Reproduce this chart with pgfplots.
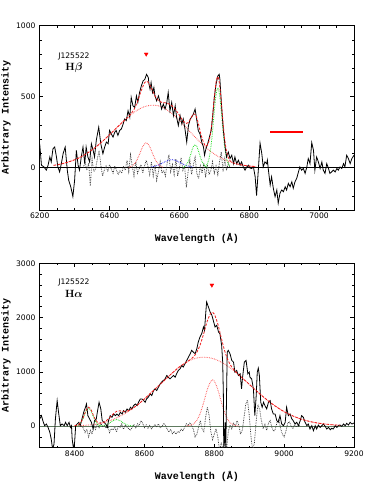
\documentclass[border=0pt]{standalone}
\usepackage{pgfplots}
\pgfplotsset{compat=1.18}
\usepackage{fontspec}
\usepackage{bm}
\newfontfamily\tickfont{DejaVu Sans}
\newfontfamily\labfont{Liberation Mono}
\definecolor{fitred}{HTML}{EE1C1C}
\definecolor{dotred}{HTML}{FF5555}
\definecolor{dotgreen}{HTML}{22DD22}
\definecolor{dotblue}{HTML}{2A2AF0}
\definecolor{zerogreen}{HTML}{5F7A5F}

\pgfplotsset{
  specaxis/.style={
    width=314.3pt, height=184.3pt, scale only axis,
    axis line style={line width=0.8pt},
    tick align=inside, xtick pos=both, ytick pos=both,
    major tick length=3.5pt, minor tick length=2pt,
    every tick/.style={black, line width=0.6pt},
    tick label style={font=\tickfont\fontsize{7.6}{9}\selectfont},
    /pgf/number format/assume math mode=true,
    /pgf/number format/set thousands separator={},
    xticklabel style={inner sep=1pt, yshift=-1.5pt},
    yticklabel style={inner sep=1pt, xshift=-3pt},
    label style={font=\labfont\bfseries\fontsize{10}{12}\selectfont},
    xlabel={Wavelength (Å)},
    ylabel={Arbitrary Intensity},
    xlabel style={at={(axis description cs:0.5,-0.157)}, anchor=center},
    ylabel style={at={(axis description cs:-0.107,0.5)}, anchor=center},
  },
  spec/.style={black, line width=0.8pt, sharp plot},
  tot/.style={fitred, line width=0.8pt, dash pattern=on 2.5pt off 1.5pt, smooth},
  comp/.style={line width=0.85pt, dash pattern=on 0.7pt off 1pt, smooth},
  resid/.style={black!80, line width=0.75pt, dash pattern=on 0.7pt off 1pt, sharp plot},
}

\begin{document}
\begin{tikzpicture}
\useasboundingbox (0,0) rectangle (374pt,498pt);

% ---------------- H beta ----------------
\begin{axis}[specaxis, at={(39.7pt,288pt)}, anchor=south west,
  xmin=6200, xmax=7100, ymin=-300, ymax=1000,
  xtick={6200,6400,6600,6800,7000},
  minor xtick={6250,6300,...,7100},
  ytick={0,500,1000},
  minor ytick={-300,-200,...,1000}]
\addplot[black, line width=0.6pt] coordinates {(6200,0) (7100,0)};
% residual
\addplot[resid] coordinates {
(6325,0) (6330,40) (6335,-20) (6340,30) (6345,-130) (6350,60) (6355,-30) (6360,-10)
(6365,60) (6370,120) (6375,20) (6380,-60) (6385,-20) (6390,10) (6395,-30) (6400,20)
(6405,-10) (6410,-40) (6415,10) (6420,-20) (6425,-50) (6430,-20) (6435,-40) (6440,10)
(6445,-20) (6450,50) (6455,-30) (6460,90) (6465,10) (6470,-60) (6475,40) (6480,-40)
(6485,-10) (6490,20) (6495,-40) (6500,10) (6505,50) (6510,10) (6515,-50) (6520,40)
(6525,-60) (6530,20) (6535,-90) (6540,-30) (6545,40) (6550,-40) (6555,-20) (6560,-60)
(6565,30) (6570,90) (6575,-30) (6580,20) (6585,-50) (6590,60) (6595,-60) (6600,-10)
(6605,70) (6610,-20) (6615,10) (6620,-140) (6625,-30) (6630,50) (6635,-50) (6640,20)
(6645,70) (6650,-40) (6655,-80) (6660,10) (6665,-40) (6670,30) (6675,-70) (6680,20)
(6685,-50) (6690,-20) (6695,40) (6700,-40) (6705,10) (6710,-50) (6715,40) (6720,110)
(6725,-30) (6730,60) (6735,-20) (6740,30) (6745,0)};
% broad component
\addplot[comp, dotred] coordinates {
(6240,15) (6260,24) (6280,37) (6300,54) (6320,77) (6340,107) (6360,143) (6380,185)
(6400,231) (6420,279) (6440,326) (6460,370) (6480,405) (6500,429) (6520,439) (6540,435)
(6560,414) (6580,378) (6600,332) (6620,280) (6640,227) (6660,177) (6680,132) (6700,95)
(6720,66) (6740,44) (6760,28) (6780,17) (6800,10) (6820,6)};
% narrow component
\addplot[comp, dotred] coordinates {
(6455,0) (6465,11) (6475,37) (6485,88) (6495,147) (6505,175) (6515,147) (6525,88)
(6535,37) (6545,11) (6555,0)};
\addplot[comp, dotblue] coordinates {
(6520,4) (6530,9) (6540,17) (6550,29) (6560,42) (6570,52) (6580,55) (6590,49)
(6600,37) (6610,24) (6620,13) (6630,6) (6640,3)};
\addplot[comp, dotgreen] coordinates {
(6610,0) (6615,7) (6620,18) (6625,40) (6630,73) (6635,113) (6640,147) (6645,160)
(6650,147) (6655,113) (6660,73) (6665,40) (6670,18) (6675,7) (6680,0)};
\addplot[comp, dotgreen] coordinates {
(6675,8) (6680,25) (6685,64) (6690,139) (6695,256) (6700,396) (6705,514) (6710,560)
(6715,514) (6720,396) (6725,256) (6730,139) (6735,64) (6740,25) (6745,8)};
% spectrum
\addplot[spec] coordinates {
(6200,167) (6205,16) (6212,4) (6219,-19) (6224,16) (6229,74) (6233,39) (6238,132)
(6243,144) (6248,74) (6252,4) (6257,-31) (6262,27) (6267,97) (6273,144) (6279,-19)
(6283,-90) (6289,-137) (6295,-205) (6300,-90) (6305,121) (6310,16) (6314,-19) (6319,74)
(6324,144) (6329,27) (6333,144) (6338,74) (6343,39) (6348,167) (6353,121) (6357,74)
(6362,191) (6369,284) (6375,167) (6381,97) (6386,144) (6391,179) (6396,167) (6400,261)
(6405,237) (6410,214) (6415,249) (6419,261) (6424,226) (6429,261) (6434,272) (6439,307)
(6443,342) (6448,331) (6453,400) (6458,354) (6462,494) (6467,435) (6472,424) (6477,505)
(6481,459) (6486,529) (6491,575) (6496,610) (6501,622) (6506,657) (6511,634) (6513,587)
(6516,552) (6519,599) (6523,529) (6527,564) (6530,505) (6535,470) (6540,505) (6545,459)
(6549,412) (6554,447) (6559,412) (6564,459) (6568,529) (6573,400) (6578,459) (6583,366)
(6588,435) (6592,354) (6597,296) (6602,366) (6607,307) (6611,342) (6616,272) (6621,179)
(6626,296) (6631,342) (6635,354) (6640,377) (6645,412) (6650,331) (6654,261) (6659,237)
(6664,179) (6669,144) (6672,86) (6676,132) (6681,167) (6686,214) (6691,261) (6695,354)
(6700,494) (6705,587) (6710,645) (6714,657) (6716,622) (6721,424) (6726,261) (6731,144)
(6735,74) (6740,109) (6745,63) (6750,86) (6755,27) (6759,74) (6764,27) (6769,51)
(6774,16) (6778,39) (6783,4) (6788,-19) (6793,4) (6798,16) (6802,-4) (6807,-7)
(6812,4) (6817,-66) (6821,-198) (6826,-19) (6831,172) (6836,98) (6840,4) (6845,39)
(6850,27) (6852,51) (6855,-19) (6860,-124) (6864,-66) (6869,-147) (6874,-206) (6879,-159)
(6883,-252) (6888,-182) (6893,-159) (6898,-171) (6903,-136) (6907,-159) (6912,-112) (6917,-136)
(6922,-101) (6926,-147) (6931,-101) (6936,-77) (6941,-31) (6945,4) (6950,-19) (6955,-7)
(6960,-42) (6965,4) (6969,63) (6974,27) (6979,175) (6984,121) (6988,-19) (6993,74)
(6998,39) (7003,-7) (7008,39) (7012,-19) (7017,-42) (7022,27) (7027,-7) (7031,-42)
(7036,-31) (7041,-19) (7046,-31) (7051,-7) (7055,-19) (7060,4) (7065,-7) (7070,27)
(7074,4) (7079,86) (7084,63) (7089,27) (7094,63) (7100,86)};
% total fit
\addplot[tot] coordinates {
(6240,15) (6260,24) (6280,37) (6300,54) (6320,77) (6340,107) (6360,143) (6380,185)
(6400,231) (6420,279) (6440,326) (6450,348) (6460,375) (6470,409) (6480,464) (6490,537)
(6500,597) (6505,608) (6510,603) (6520,558) (6530,506) (6540,473) (6550,459) (6560,456)
(6570,448) (6580,433) (6590,404) (6600,369) (6610,330) (6615,319) (6620,311) (6625,316)
(6630,333) (6635,357) (6640,377) (6645,375) (6650,349) (6655,303) (6660,250) (6665,206)
(6670,173) (6675,150) (6680,157) (6685,187) (6690,253) (6695,360) (6700,491) (6705,602)
(6710,641) (6715,587) (6720,462) (6725,317) (6730,194) (6735,114) (6740,69) (6745,48)
(6750,36) (6760,28) (6780,17) (6800,10) (6820,6)};
\addplot[only marks, mark=triangle*, mark size=2.2pt,
  mark options={rotate=180, fill=red, draw=red}] coordinates {(6505,800)};
\addplot[red, line width=1.3pt] coordinates {(6860,250) (6955,250)};
\node[font=\tickfont\fontsize{7.6}{9}\selectfont] at (axis cs:6298,782) {J125522};
\node[font=\fontsize{10.5}{12}\selectfont] at (axis cs:6298,700) {\textbf{H}$\bm{\beta}$};
\end{axis}

% ---------------- H alpha ----------------
\begin{axis}[specaxis, at={(39.7pt,50.3pt)}, anchor=south west,
  xmin=8300, xmax=9200, ymin=-400, ymax=3000,
  xtick={8400,8600,8800,9000,9200},
  minor xtick={8300,8350,...,9200},
  ytick={0,1000,2000,3000},
  minor ytick={-400,-200,...,3000}]
\addplot[zerogreen, line width=1pt] coordinates {(8300,0) (9200,0)};
\addplot[resid] coordinates {
(8420,0) (8425,-40) (8430,-120) (8435,-60) (8440,-200) (8445,-80) (8450,-150) (8455,10)
(8460,-60) (8465,40) (8470,-30) (8475,60) (8480,-20) (8485,20) (8490,-40) (8495,0)
(8500,-120) (8505,-50) (8510,-70) (8515,-20) (8520,-110) (8525,0) (8530,-30) (8535,40)
(8540,-60) (8545,20) (8550,-20) (8560,-80) (8565,-20) (8570,30) (8575,-40) (8580,40)
(8585,10) (8590,100) (8595,50) (8600,-30) (8605,20) (8610,-40) (8615,10) (8620,-50)
(8630,30) (8635,-20) (8640,40) (8645,-30) (8650,-10) (8655,50) (8660,20) (8665,-60)
(8670,-110) (8675,-60) (8680,-140) (8685,-100) (8690,-150) (8695,-100) (8700,-120) (8705,-60)
(8710,-90) (8715,-20) (8720,40) (8725,10) (8730,60) (8735,20) (8740,-60) (8745,-200)
(8750,-150) (8755,-20) (8760,100) (8765,-50) (8770,-100) (8775,150) (8780,350) (8785,200)
(8790,-100) (8795,-250) (8800,-150) (8805,-50) (8810,-200) (8815,-450) (8820,-300) (8825,-450)
(8830,-200) (8835,-450) (8840,-100) (8845,20) (8850,-50) (8855,60) (8860,-20) (8865,100)
(8870,20) (8875,-150) (8880,-80) (8885,150) (8890,400) (8895,480) (8900,200) (8905,-200)
(8910,-450) (8915,-300) (8920,100) (8925,400) (8930,300) (8935,100) (8940,-50) (8945,30)
(8950,-80) (8955,50) (8960,100) (8965,-30) (8970,-100) (8975,-50) (8980,80) (8985,120)
(8990,-50) (8995,-150) (9000,-200) (9005,-100) (9010,50) (9015,80) (9020,0) (9025,-40)
(9030,30) (9035,-20) (9040,20) (9045,0)};
\addplot[comp, dotred] coordinates {
(8400,6) (8420,10) (8440,18) (8460,30) (8480,55) (8500,95) (8520,150) (8540,215)
(8560,295) (8580,390) (8600,500) (8620,620) (8640,740) (8660,860) (8680,980) (8700,1090)
(8720,1175) (8740,1237) (8760,1266) (8780,1266) (8800,1237) (8820,1179) (8840,1099) (8860,999)
(8880,888) (8900,770) (8920,653) (8940,540) (8960,436) (8980,344) (9000,265) (9020,200)
(9040,147) (9060,105) (9080,74) (9100,51) (9120,34) (9140,22) (9160,14)};
\addplot[comp, dotred] coordinates {
(8720,0) (8730,11) (8740,37) (8750,105) (8760,240) (8770,445) (8780,674) (8790,829)
(8795,850) (8800,829) (8810,674) (8820,445) (8830,240) (8840,105) (8850,37) (8860,11) (8870,0)};
\addplot[comp, dotgreen] coordinates {
(8405,0) (8410,14) (8415,38) (8420,82) (8425,151) (8430,233) (8435,303) (8440,330)
(8445,303) (8450,233) (8455,151) (8460,82) (8465,38) (8470,14) (8475,0)};
\addplot[comp, dotgreen] coordinates {
(8470,0) (8480,5) (8490,21) (8500,55) (8510,99) (8520,120) (8530,99) (8540,55)
(8550,21) (8560,5) (8570,0)};
\addplot[spec] coordinates {
(8300,130) (8305,191) (8309,99) (8314,6) (8319,37) (8324,-25) (8329,-117) (8333,-241)
(8337,-430) (8341,-333) (8345,130) (8350,469) (8354,253) (8359,6) (8364,37) (8370,6)
(8374,68) (8379,6) (8384,68) (8388,-25) (8391,6) (8393,-241) (8397,-430) (8400,-300)
(8403,6) (8407,37) (8412,68) (8416,6) (8421,130) (8426,253) (8431,346) (8434,407)
(8438,191) (8443,130) (8448,68) (8453,-55) (8457,99) (8462,130) (8465,253) (8470,438)
(8475,315) (8479,99) (8484,68) (8489,37) (8494,-25) (8497,99) (8502,191) (8507,161)
(8512,222) (8517,191) (8521,222) (8526,191) (8531,253) (8536,222) (8540,284) (8545,253)
(8550,315) (8555,284) (8560,346) (8564,315) (8569,377) (8574,407) (8579,377) (8583,438)
(8588,500) (8593,500) (8598,469) (8602,438) (8606,500) (8611,531) (8616,593) (8621,562)
(8626,654) (8630,685) (8635,654) (8640,716) (8645,778) (8649,809) (8654,840) (8659,870)
(8664,932) (8668,901) (8673,870) (8678,901) (8683,932) (8688,901) (8692,963) (8697,1025)
(8702,1056) (8707,1117) (8711,1087) (8716,1148) (8721,1210) (8726,1272) (8731,1333) (8735,1395)
(8740,1364) (8745,1333) (8750,1426) (8754,1549) (8759,1642) (8764,1704) (8769,1827) (8772,1766)
(8775,2043) (8778,2290) (8783,2198) (8788,2105) (8793,2043) (8797,1951) (8802,1827) (8807,1858)
(8812,1735) (8816,1704) (8821,1488) (8824,1179) (8826,562) (8827,-430) (8829,-300) (8831,68)
(8833,-430) (8835,562) (8837,1364) (8840,1395) (8845,1333) (8850,1210) (8855,1179) (8859,994)
(8864,1025) (8869,932) (8874,963) (8878,685) (8881,901) (8886,1179) (8891,1210) (8896,963)
(8900,994) (8902,901) (8907,870) (8912,685) (8916,191) (8920,562) (8923,994) (8926,1068)
(8929,932) (8933,438) (8937,346) (8941,438) (8945,377) (8950,315) (8955,438) (8960,469)
(8964,315) (8969,222) (8974,222) (8979,99) (8983,68) (8988,191) (8993,37) (8998,6)
(9003,68) (9007,346) (9012,191) (9017,222) (9022,130) (9026,99) (9031,37) (9036,68)
(9041,6) (9046,99) (9050,191) (9055,161) (9060,68) (9065,6) (9069,37) (9074,-55)
(9079,6) (9084,-86) (9089,6) (9093,-55) (9098,18) (9103,-25) (9108,6) (9112,37)
(9117,0) (9122,-55) (9127,-25) (9132,-68) (9136,-43) (9141,-55) (9146,6) (9151,-25)
(9155,6) (9160,18) (9165,-6) (9170,37) (9175,6) (9179,50) (9184,18) (9189,68)
(9194,37) (9200,56)};
\addplot[tot] coordinates {
(8400,6) (8410,22) (8415,47) (8420,92) (8425,163) (8430,247) (8435,319) (8440,348)
(8445,324) (8450,257) (8455,178) (8460,112) (8465,72) (8470,54) (8480,60) (8490,95)
(8500,150) (8510,219) (8520,270) (8530,281) (8540,270) (8550,275) (8560,300) (8580,390)
(8600,500) (8620,620) (8640,740) (8660,860) (8680,980) (8700,1090) (8720,1175) (8730,1221)
(8740,1274) (8750,1360) (8760,1506) (8770,1715) (8780,1940) (8790,2084) (8795,2098) (8800,2066)
(8810,1884) (8820,1624) (8830,1380) (8840,1204) (8850,1087) (8860,1010) (8880,888) (8900,770)
(8920,653) (8940,540) (8960,436) (8980,344) (9000,265) (9020,200) (9040,147) (9060,105)
(9080,74) (9100,51) (9120,34) (9140,22) (9160,14)};
\addplot[only marks, mark=triangle*, mark size=2.2pt,
  mark options={rotate=180, fill=red, draw=red}] coordinates {(8793,2600)};
\node[font=\tickfont\fontsize{7.6}{9}\selectfont] at (axis cs:8398,2653) {J125522};
\node[font=\fontsize{10.5}{12}\selectfont] at (axis cs:8398,2440) {\textbf{H}$\bm{\alpha}$};
\end{axis}
\end{tikzpicture}
\end{document}
